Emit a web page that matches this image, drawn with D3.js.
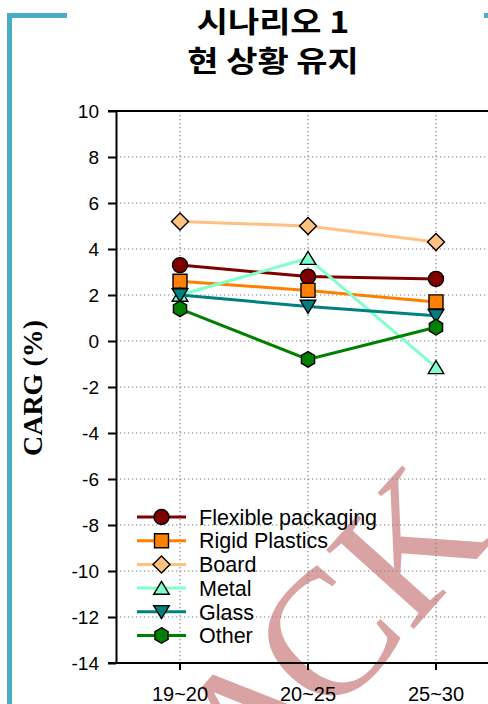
<!DOCTYPE html>
<html><head><meta charset="utf-8">
<script src="https://cdn.jsdelivr.net/npm/d3@7"></script>
<style>body{margin:0;background:#fff}svg{display:block}</style>
</head><body><svg id="c" width="488" height="704"></svg>
<script>
// ---- data ----
const categories = ["19~20", "20~25", "25~30"];
const seriesNames = ["Flexible packaging", "Rigid Plastics", "Board", "Metal", "Glass", "Other"];
const flexible = [3.3, 2.8, 2.7];
const rigid = [2.6, 2.2, 1.7];
const board = [5.2, 5.0, 4.3];
const metal = [2.0, 3.6, -1.15];
const glass = [2.0, 1.5, 1.1];
const other = [1.4, -0.8, 0.6];
const yTicks = [10, 8, 6, 4, 2, 0, -2, -4, -6, -8, -10, -12, -14];
const titleLines = ["시나리오 1", "현 상황 유지"];
const yTitle = "CARG (%)";
const watermarkParts = ["A", "CK"];

const seriesValues = [flexible, rigid, board, metal, glass, other];
const colors = ["#800000", "#ff8000", "#ffc080", "#80ffcc", "#008080", "#008000"];
const shapes = ["circle", "square", "diamond", "triUp", "triDown", "hexagon"];

const svg = d3.select("#c");
const L = 116, R = 500, T = 111, B = 663;
const x = d3.scaleBand().domain(categories).range([L, R]);
const cx = c => x(c) + x.bandwidth() / 2;
const y = d3.scaleLinear().domain([-14, 10]).range([B, T]);

// custom marker paths
function markerPath(shape) {
  const p = d3.path();
  if (shape === "circle") { p.arc(0, 0, 7.5, 0, 2 * Math.PI); }
  else if (shape === "square") { p.rect(-7, -7, 14, 14); }
  else if (shape === "diamond") { p.moveTo(0, -8.5); p.lineTo(8.5, 0); p.lineTo(0, 8.5); p.lineTo(-8.5, 0); p.closePath(); }
  else if (shape === "triUp") { p.moveTo(0, -6.8); p.lineTo(7.8, 6.2); p.lineTo(-7.8, 6.2); p.closePath(); }
  else if (shape === "triDown") { p.moveTo(0, 6.8); p.lineTo(7.8, -6.2); p.lineTo(-7.8, -6.2); p.closePath(); }
  else if (shape === "hexagon") {
    for (let i = 0; i < 6; i++) {
      const a = -Math.PI / 2 + i * Math.PI / 3;
      const px = 7.6 * Math.cos(a), py = 7.8 * Math.sin(a);
      if (i === 0) p.moveTo(px, py); else p.lineTo(px, py);
    }
    p.closePath();
  }
  return p.toString();
}

// background
svg.append("rect").attr("width", 488).attr("height", 704).attr("fill", "#fff");

// watermark
const wm = svg.append("g").attr("transform", "translate(330,722) rotate(-48)")
  .attr("font-family", "'Liberation Serif', serif").attr("font-size", 180).attr("fill", "#d9a3a3");
wm.append("text").attr("x", -115).attr("y", 0).text(watermarkParts[0]);
wm.append("text").attr("x", 0).attr("y", 0).text(watermarkParts[1]);

// frame decoration
svg.append("path").attr("d", "M9.5,704 V15.5 H67").attr("fill", "none")
  .attr("stroke", "#4bacc6").attr("stroke-width", 5);
svg.append("rect").attr("x", 484).attr("y", 13).attr("width", 4).attr("height", 5).attr("fill", "#4bacc6");

// grid
const grid = svg.append("g").attr("stroke", "#7f7f7f").attr("stroke-width", 1.2).attr("stroke-dasharray", "1.3,2.7");
grid.selectAll(".hg").data(yTicks.filter(t => t !== 10 && t !== -14)).join("line")
  .attr("x1", L).attr("x2", R).attr("y1", d => y(d)).attr("y2", d => y(d));
grid.selectAll(".vg").data(categories).join("line")
  .attr("x1", d => cx(d)).attr("x2", d => cx(d)).attr("y1", T).attr("y2", B);

// top border
svg.append("line").attr("x1", 108).attr("x2", R).attr("y1", T).attr("y2", T).attr("stroke", "#000").attr("stroke-width", 2);

// y axis
const yAxis = svg.append("g").attr("transform", `translate(${L},0)`)
  .call(d3.axisLeft(y).tickValues(yTicks).tickSize(8).tickSizeOuter(0).tickPadding(9).tickFormat(d => String(d)));
yAxis.select(".domain").attr("stroke-width", 2);
yAxis.selectAll(".tick line").attr("stroke-width", 2);
yAxis.selectAll("text").attr("font-family", "'Liberation Sans', Arial, sans-serif").attr("font-size", 19).attr("fill", "#000");

// x axis
const xAxis = svg.append("g").attr("transform", `translate(0,${B})`)
  .call(d3.axisBottom(x).tickSize(7).tickSizeOuter(0));
xAxis.select(".domain").remove();
xAxis.selectAll(".tick line").attr("stroke-width", 2);
xAxis.selectAll("text").attr("font-family", "'Liberation Sans', Arial, sans-serif").attr("font-size", 20)
  .attr("fill", "#000").attr("y", 38).attr("dy", 0);
svg.append("line").attr("x1", 108).attr("x2", R).attr("y1", B).attr("y2", B).attr("stroke", "#000").attr("stroke-width", 2);

// series
const line = d3.line().x((d, i) => cx(categories[i])).y(d => y(d));
seriesValues.forEach((vals, s) => {
  const g = svg.append("g");
  g.append("path").attr("d", line(vals)).attr("fill", "none")
    .attr("stroke", colors[s]).attr("stroke-width", 3);
  g.selectAll("path.m").data(vals).join("path").attr("class", "m")
    .attr("d", markerPath(shapes[s]))
    .attr("transform", (d, i) => `translate(${cx(categories[i])},${y(d)})`)
    .attr("fill", colors[s]).attr("stroke", "#000").attr("stroke-width", 1.4);
});

// legend
const lg = svg.append("g");
seriesNames.forEach((n, i) => {
  const ry = 517 + i * 23.7;
  lg.append("line").attr("x1", 137).attr("x2", 186).attr("y1", ry).attr("y2", ry)
    .attr("stroke", colors[i]).attr("stroke-width", 3);
  lg.append("path").attr("d", markerPath(shapes[i])).attr("transform", `translate(161.5,${ry})`)
    .attr("fill", colors[i]).attr("stroke", "#000").attr("stroke-width", 1.4);
  lg.append("text").attr("x", 199).attr("y", ry + 7.7)
    .attr("font-family", "'Liberation Sans', Arial, sans-serif").attr("font-size", 21.5)
    .attr("fill", "#000").text(n);
});

// title
svg.selectAll("text.title").data(titleLines).join("text").attr("class", "title")
  .attr("transform", (d, i) => `translate(273,${33 + i * 38.5}) scale(1.17,1)`)
  .attr("text-anchor", "middle")
  .attr("font-family", "'Noto Sans CJK KR', sans-serif").attr("font-weight", "bold")
  .attr("font-size", 29).attr("fill", "#000").text(d => d);

// y title
svg.append("text").attr("transform", "translate(42,388) rotate(-90)").attr("text-anchor", "middle")
  .attr("font-family", "'Liberation Serif', 'Times New Roman', serif").attr("font-weight", "bold")
  .attr("font-size", 28).attr("fill", "#000").text(yTitle);
</script>
</body></html>
